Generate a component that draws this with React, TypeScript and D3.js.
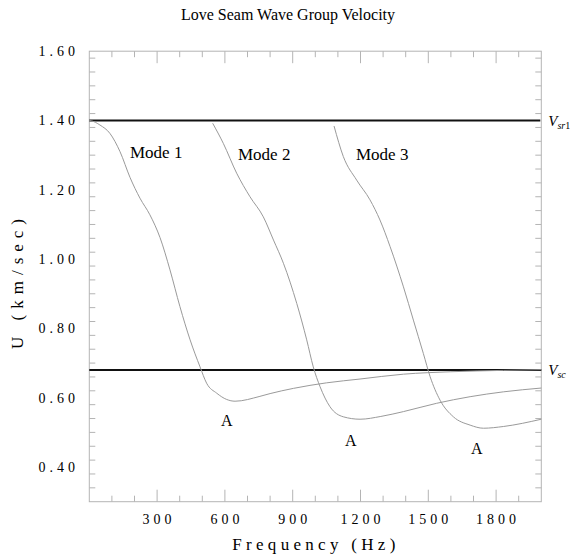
import React from "react";
import * as d3 from "d3";

// ---- data ----
const title = "Love Seam Wave Group Velocity";
const xLabel = "Frequency (Hz)";
const yLabel = "U (km/sec)";
const xTickLabels = [300, 600, 900, 1200, 1500, 1800];
const yTickLabels = [0.4, 0.6, 0.8, 1.0, 1.2, 1.4, 1.6];
const vsr1 = 1.4;
const vsc = 0.68;

const mode1F = [0, 10, 47, 91, 136, 180, 224, 268, 313, 357, 401, 446, 490, 519, 564, 608, 645, 755, 800, 903, 1050, 1198, 1390, 1600, 1832, 2000];
const mode1U = [1.4, 1.399, 1.387, 1.363, 1.31, 1.236, 1.176, 1.128, 1.062, 0.969, 0.863, 0.767, 0.689, 0.642, 0.613, 0.595, 0.59, 0.604, 0.612, 0.627, 0.643, 0.654, 0.668, 0.675, 0.679, 0.681];
const mode2F = [546, 593, 652, 711, 770, 815, 859, 918, 962, 991, 1021, 1065, 1124, 1198, 1290, 1390, 1537, 1685, 1832, 2000];
const mode2U = [1.392, 1.334, 1.248, 1.18, 1.122, 1.055, 0.988, 0.872, 0.767, 0.689, 0.632, 0.574, 0.545, 0.538, 0.546, 0.56, 0.584, 0.603, 0.617, 0.628];
const mode3F = [1083, 1124, 1183, 1242, 1286, 1331, 1390, 1434, 1478, 1508, 1552, 1611, 1685, 1744, 1832, 2000];
const mode3U = [1.384, 1.296, 1.228, 1.171, 1.113, 1.036, 0.92, 0.824, 0.728, 0.661, 0.593, 0.545, 0.521, 0.512, 0.517, 0.538];

const modeLabels = ["Mode 1", "Mode 2", "Mode 3"];
const modeLabelF = [180, 658, 1180];
const modeLabelU = [1.292, 1.286, 1.286];
const aLabelF = [583, 1131, 1689];
const aLabelU = [0.518, 0.461, 0.438];

const W = 570, H = 559;
const x = d3.scaleLinear().domain([0, 2000]).range([89.3, 541.3]);
const y = d3.scaleLinear().domain([0.3, 1.6]).range([501.7, 51.2]);

const FONT = "'Liberation Serif', 'DejaVu Serif', serif";
const FRAME = "#b4b4b4";
const CURVE = "#9a9a9a";

export default function App() {
  const modes = [
    mode1F.map((f, i) => [f, mode1U[i]] as [number, number]),
    mode2F.map((f, i) => [f, mode2U[i]] as [number, number]),
    mode3F.map((f, i) => [f, mode3U[i]] as [number, number]),
  ];
  const line = d3
    .line<[number, number]>()
    .x((d) => x(d[0]))
    .y((d) => y(d[1]))
    .curve(d3.curveMonotoneX);

  const [x0, x1] = x.range();
  const [yb, yt] = y.range();

  const xTicks = d3.range(0, 2001, 100);
  const yTicks = d3.range(0, 33).map((i) => 0.3 + i * 0.04).filter((v) => v <= 1.6001);
  const isMajorX = (v: number) => v % 300 === 0;
  const isMajorY = (v: number) => Math.abs(Math.round(v * 5) - v * 5) < 1e-6;

  const ls = 4;

  return (
    <svg
      width={W}
      height={H}
      style={{ position: "absolute", left: 0, top: 0, background: "#fff", fontFamily: FONT }}
    >
      <rect width={W} height={H} fill="#fff" />
      <text x={288} y={20} textAnchor="middle" fontSize={16}>
        {title}
      </text>

      {/* frame */}
      <rect x={x0} y={yt} width={x1 - x0} height={yb - yt} fill="none" stroke={FRAME} strokeWidth={1} />

      {/* x ticks bottom and top */}
      {xTicks.filter((v) => v > 0 && v < 2000).map((v) => {
        const len = isMajorX(v) ? 12 : 6;
        return (
          <g key={"xt" + v} stroke={FRAME} strokeWidth={1}>
            <line x1={x(v)} x2={x(v)} y1={yb} y2={yb - len} />
            <line x1={x(v)} x2={x(v)} y1={yt} y2={yt + len} />
          </g>
        );
      })}
      {/* y ticks left and right */}
      {yTicks.filter((v) => v > 0.31 && v < 1.59).map((v) => {
        const len = isMajorY(v) ? 11 : 6;
        return (
          <g key={"yt" + v.toFixed(2)} stroke={FRAME} strokeWidth={1}>
            <line x1={x0} x2={x0 + len} y1={y(v)} y2={y(v)} />
            <line x1={x1} x2={x1 - len} y1={y(v)} y2={y(v)} />
          </g>
        );
      })}

      {/* x tick labels */}
      {xTickLabels.map((v) => (
        <text
          key={"xl" + v}
          x={x(v) + ls / 2}
          y={524}
          textAnchor="middle"
          fontSize={14}
          letterSpacing={ls}
        >
          {String(v)}
        </text>
      ))}
      {/* y tick labels */}
      {yTickLabels.map((v) => (
        <text
          key={"yl" + v}
          x={75 + ls}
          y={y(v)}
          dy="0.35em"
          textAnchor="end"
          fontSize={14}
          letterSpacing={ls}
        >
          {v.toFixed(2)}
        </text>
      ))}

      {/* axis titles */}
      <text x={316} y={550} textAnchor="middle" fontSize={17} letterSpacing={4.3}>
        {xLabel}
      </text>
      <text
        transform={`translate(23,${281}) rotate(-90)`}
        textAnchor="middle"
        fontSize={17}
        letterSpacing={6}
      >
        {yLabel}
      </text>

      {/* reference lines */}
      <line x1={x0} x2={x1 - 1} y1={y(vsr1)} y2={y(vsr1)} stroke="#111" strokeWidth={2} />
      <line x1={x0} x2={x1} y1={y(vsc)} y2={y(vsc)} stroke="#111" strokeWidth={2} />

      {/* curves */}
      {modes.map((m, i) => (
        <path key={"m" + i} d={line(m) || ""} fill="none" stroke={CURVE} strokeWidth={1} />
      ))}

      {/* labels */}
      <text x={x1 + 7} y={y(vsr1) + 5} fontSize={15} fontStyle="italic">
        V
        <tspan fontSize={10} dy={3}>sr</tspan>
        <tspan fontSize={10} fontStyle="normal">1</tspan>
      </text>
      <text x={x1 + 7} y={y(vsc) + 5} fontSize={15} fontStyle="italic">
        V
        <tspan fontSize={10} dy={3}>sc</tspan>
      </text>

      {modeLabels.map((t, i) => (
        <text key={t} x={x(modeLabelF[i])} y={y(modeLabelU[i])} fontSize={17}>
          {t}
        </text>
      ))}
      {aLabelF.map((f, i) => (
        <text key={"a" + i} x={x(f)} y={y(aLabelU[i])} fontSize={16}>
          A
        </text>
      ))}
    </svg>
  );
}
